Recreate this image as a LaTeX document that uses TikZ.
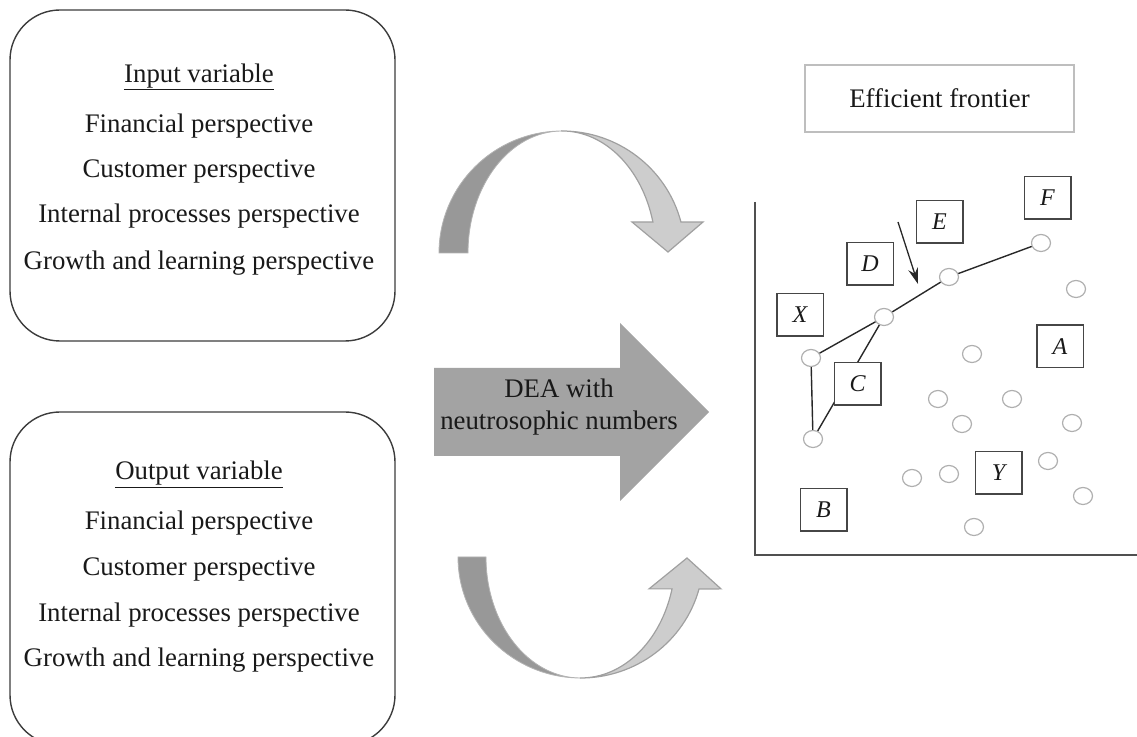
\documentclass[tikz,border=0pt]{standalone}
\usepackage{fontspec}
\setmainfont{Liberation Serif}
\usetikzlibrary{arrows.meta,shapes.geometric}
\definecolor{txt}{RGB}{25,25,25}
\definecolor{boxedge}{RGB}{60,60,60}
\definecolor{tagedge}{RGB}{70,70,70}
\definecolor{dotedge}{RGB}{175,175,175}
\definecolor{linkc}{RGB}{40,40,40}
\definecolor{efedge}{RGB}{190,190,190}
\definecolor{axisc}{RGB}{80,80,80}
\definecolor{bigarrow}{RGB}{163,163,163}
\definecolor{darkband}{RGB}{152,152,152}
\definecolor{lightband}{RGB}{205,205,205}
\definecolor{bandedge}{RGB}{160,160,160}
\begin{document}
\begin{tikzpicture}[x=0.5pt,y=-0.5pt,
  lbl/.style={font=\fontsize{13.4}{16}\selectfont, text=txt, inner sep=0pt, anchor=base},
  panel/.style={draw=boxedge, line width=0.7pt, rounded corners=25pt, minimum width=192.5pt, inner sep=0pt},
  tag/.style={draw=tagedge, line width=0.75pt, fill=white, minimum width=23.25pt, minimum height=21.25pt, inner sep=0pt, font=\fontsize{12}{14}\selectfont\itshape, text=txt},
  dot/.style={ellipse, draw=dotedge, line width=0.6pt, fill=white, minimum width=9.5pt, minimum height=8.5pt, inner sep=0pt},
  link/.style={draw=linkc, line width=0.7pt},
  darkpart/.style={fill=darkband, draw=bandedge!80!white, line width=0.4pt},
  lightpart/.style={fill=lightband, draw=bandedge, line width=0.6pt}]
\useasboundingbox (0,0) rectangle (1137,737);
\clip (0,0) rectangle (1137,737);

% left panels
\node[panel, minimum height=165.5pt] (inbox) at (202.5,175.5) {};
\node[panel, minimum height=166.5pt] (outbox) at (202.5,578.5) {};

\node[lbl] (in0) at (199,83) {Input variable};
\draw[txt, line width=0.6pt] ([yshift=-3.2pt]in0.base west) -- ([yshift=-3.2pt]in0.base east);
\node[lbl] (in1) at (199,132.5) {Financial perspective};
\node[lbl] (in2) at (199,178) {Customer perspective};
\node[lbl] (in3) at (199,223) {Internal processes perspective};
\node[lbl] (in4) at (199,270) {Growth and learning perspective};

\node[lbl] (out0) at (199,480) {Output variable};
\draw[txt, line width=0.6pt] ([yshift=-3.8pt]out0.base west) -- ([yshift=-3.8pt]out0.base east);
\node[lbl] (out1) at (199,530) {Financial perspective};
\node[lbl] (out2) at (199,576) {Customer perspective};
\node[lbl] (out3) at (199,622) {Internal processes perspective};
\node[lbl] (out4) at (199,667) {Growth and learning perspective};

% top curved arrow
\path[darkpart] (439,253) arc[start angle=180, end angle=270, x radius=123, y radius=122]
  arc[start angle=270, end angle=180, x radius=94, y radius=122] -- cycle;
\path[lightpart] (562,131) arc[start angle=270, end angle=345.3, x radius=123, y radius=122]
  -- (703,222) -- (668,252) -- (632,222) -- (652.9,222)
  arc[start angle=345.3, end angle=270, x radius=94, y radius=122] -- cycle;

% bottom curved arrow
\path[darkpart] (458,557) arc[start angle=180, end angle=90, x radius=122.7, y radius=121]
  arc[start angle=90, end angle=180, x radius=94.7, y radius=121] -- cycle;
\path[lightpart] (580.7,678) arc[start angle=90, end angle=15.3, x radius=122.7, y radius=121]
  -- (721,588.9) -- (687,558) -- (649,588.9) -- (672.05,588.9)
  arc[start angle=15.3, end angle=90, x radius=94.7, y radius=121] -- cycle;

% big arrow
\fill[bigarrow] (434,368) -- (620,368) -- (620,323) -- (709,412) -- (620,501) -- (620,456) -- (434,456) -- cycle;
\node[lbl] (dea1) at (559,398) {DEA with};
\node[lbl] (dea2) at (559,430) {neutrosophic numbers};

% right panel
\node[draw=efedge, line width=0.6pt, fill=white, minimum width=134.5pt, minimum height=33.5pt, inner sep=0pt,
  font=\fontsize{13.4}{16}\selectfont, text=txt] (ef) at (939.5,98.5) {Efficient frontier};

\coordinate (axT) at (755,202);
\coordinate (ax0) at (755,555);
\coordinate (axR) at (1137,555);
\draw[axisc, line width=0.8pt] (axT) -- (ax0) -- (axR);

\node[dot] (pF) at (1041,243) {};
\node[dot] (pE) at (949,277) {};
\node[dot] (pD) at (884,317) {};
\node[dot] (pX) at (811,358) {};
\node[dot] (pB) at (813,439) {};
\node[dot] (q1) at (1076,289) {};
\node[dot] (q2) at (972,354) {};
\node[dot] (q3) at (938,399) {};
\node[dot] (q4) at (1012,399) {};
\node[dot] (q5) at (962,424) {};
\node[dot] (q6) at (1072,423) {};
\node[dot] (q7) at (1048,461) {};
\node[dot] (q8) at (949,474) {};
\node[dot] (q9) at (912,478) {};
\node[dot] (q10) at (1083,496) {};
\node[dot] (q11) at (974,527) {};

\draw[link] (pX) -- (pD);
\draw[link] (pD) -- (pE);
\draw[link] (pE) -- (pF);
\draw[link] (pX) -- (pB);
\draw[link] (pB) -- (pD);

\coordinate (ar1) at (898,222);
\coordinate (ar2) at (918,284);
\draw[linkc, line width=0.65pt, -{Stealth[length=8pt,width=5pt]}] (ar1) -- (ar2);

\node[tag] (tF) at (1047.5,198) {F};
\node[tag] (tE) at (939.5,222) {E};
\node[tag] (tD) at (870,264) {D};
\node[tag] (tX) at (800,315) {X};
\node[tag] (tA) at (1060,346.5) {A};
\node[tag] (tC) at (857.5,384) {C};
\node[tag] (tY) at (998.5,473) {Y};
\node[tag] (tB) at (823.5,510) {B};
\end{tikzpicture}
\end{document}
